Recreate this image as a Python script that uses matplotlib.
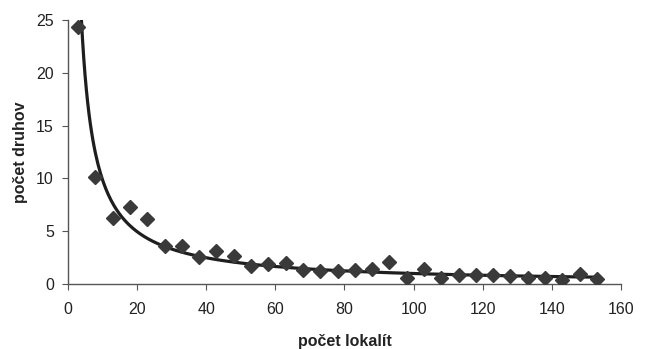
import numpy as np
import matplotlib.pyplot as plt

plt.rcParams['font.family'] = ['Liberation Sans', 'DejaVu Sans']

# počet lokalít vs. počet druhov
lokality = [3, 8, 13, 18, 23, 28, 33, 38, 43, 48, 53, 58, 63, 68, 73, 78,
            83, 88, 93, 98, 103, 108, 113, 118, 123, 128, 133, 138, 143, 148, 153]
druhy = [24.3, 10.1, 6.3, 7.3, 6.15, 3.6, 3.6, 2.55, 3.1, 2.65, 1.7, 1.9, 2.0,
         1.35, 1.2, 1.2, 1.3, 1.4, 2.1, 0.55, 1.4, 0.6, 0.85, 0.85, 0.85, 0.8,
         0.6, 0.6, 0.4, 1.0, 0.5]

x = np.asarray(lokality, dtype=float)
y = np.asarray(druhy)

# power trendline (log-log least squares, like Excel)
b, lna = np.polyfit(np.log(x), np.log(y), 1)
a = np.exp(lna)
xf = np.linspace(3.5, 153, 400)
yf = a * xf ** b

fig = plt.figure(figsize=(6.45, 3.49), dpi=100)
ax = fig.add_axes([0.105, 0.186, 0.858, 0.757])

ax.plot(x, y, 'D', color='#3a3a3a', ms=7.5, zorder=3)
ax.plot(xf, yf, color='#1e1e1e', lw=2.3, zorder=2)

ax.set_xlim(0, 160)
ax.set_ylim(0, 25)
ax.set_xticks(range(0, 161, 20))
ax.set_yticks(range(0, 26, 5))

for s in ['top', 'right']:
    ax.spines[s].set_visible(False)
for s in ['left', 'bottom']:
    ax.spines[s].set_color('#555555')
    ax.spines[s].set_linewidth(1.0)

ax.tick_params(colors='#555555', labelcolor='#222222', labelsize=11.5, length=4)
ax.tick_params(axis='x', pad=9)
ax.tick_params(axis='y', pad=6)

ax.set_xlabel('počet lokalít', fontsize=11.5, fontweight='bold', color='#222222', labelpad=12)
ax.set_ylabel('počet druhov', fontsize=11.5, fontweight='bold', color='#222222', labelpad=6)

fig.savefig('out.png', dpi=100)
